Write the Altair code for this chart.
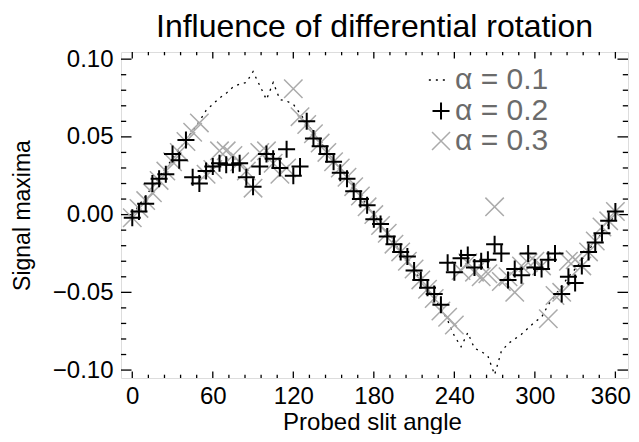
import altair as alt
import pandas as pd

# ---- data -------------------------------------------------------------
angle = [0, 5, 10, 15, 20, 25, 30, 35, 40, 45, 50, 55, 60, 65, 70, 75, 80, 85,
         90, 95, 100, 105, 110, 115, 120, 125, 130, 135, 140, 145, 150, 155, 160,
         165, 170, 175, 180, 185, 190, 195, 200, 205, 210, 215, 220, 225, 230, 235,
         240, 245, 250, 255, 260, 265, 270, 275, 280, 285, 290, 295, 300, 305, 310,
         315, 320, 325, 330, 335, 340, 345, 350, 355, 360]

alpha01 = [0.000, 0.006, 0.012, 0.018, 0.024, 0.030, 0.036, 0.042, 0.048, 0.054,
           0.060, 0.067, 0.071, 0.075, 0.078, 0.082, 0.084, 0.085, 0.092, 0.083,
           0.074, 0.085, 0.074, 0.073, 0.071, 0.065, 0.059, 0.053, 0.047, 0.041,
           0.035, 0.030, 0.024, 0.018, 0.012, 0.006, 0.000, -0.006, -0.012, -0.018,
           -0.024, -0.030, -0.036, -0.042, -0.048, -0.054, -0.060, -0.068, -0.078,
           -0.085, -0.076, -0.086, -0.088, -0.091, -0.103, -0.088, -0.083, -0.080,
           -0.077, -0.073, -0.069, -0.066, -0.058, -0.052, -0.046, -0.040, -0.035,
           -0.029, -0.023, -0.017, -0.012, -0.006, 0.000]

alpha02 = [-0.002, 0.002, 0.007, 0.020, 0.023, 0.026, 0.039, 0.035, 0.048, 0.024,
           0.020, 0.028, 0.031, 0.033, 0.032, 0.032, 0.033, 0.024, 0.018, 0.031,
           0.039, 0.036, 0.030, 0.042, 0.025, 0.031, 0.060, 0.049, 0.044, 0.039,
           0.034, 0.027, 0.023, 0.015, 0.010, 0.006, -0.003, -0.006, -0.014, -0.019,
           -0.024, -0.027, -0.036, -0.042, -0.047, -0.051, -0.058, -0.031, -0.037,
           -0.028, -0.026, -0.034, -0.030, -0.029, -0.019, -0.025, -0.042, -0.035,
           -0.039, -0.025, -0.034, -0.035, -0.029, -0.025, -0.051, -0.040, -0.044,
           -0.033, -0.024, -0.018, -0.012, -0.004, 0.002]

alpha03 = [-0.002, 0.004, 0.009, 0.014, 0.022, 0.028, 0.034, 0.040, 0.047, 0.053,
           0.059, 0.026, 0.029, 0.041, 0.041, 0.038, 0.034, 0.028, 0.017, 0.040,
           0.041, 0.033, 0.026, 0.030, 0.081, 0.063, 0.058, 0.052, 0.046, 0.040,
           0.034, 0.030, 0.024, 0.018, 0.012, 0.005, 0.000, -0.007, -0.012, -0.019,
           -0.024, -0.030, -0.035, -0.042, -0.048, -0.054, -0.062, -0.066, -0.071,
           -0.036, -0.031, -0.037, -0.040, -0.038, 0.005, -0.043, -0.040, -0.050,
           -0.033, -0.031, -0.030, -0.033, -0.067, -0.052, -0.050, -0.030, -0.029,
           -0.033, -0.024, -0.017, -0.008, -0.004, 0.002]

x_major = [0, 60, 120, 180, 240, 300, 360]
x_minor = [12, 24, 36, 48, 72, 84, 96, 108, 132, 144, 156, 168, 192, 204, 216,
           228, 252, 264, 276, 288, 312, 324, 336, 348]
y_major = [-0.10, -0.05, 0.00, 0.05, 0.10]
y_minor = [-0.09, -0.08, -0.07, -0.06, -0.04, -0.03, -0.02, -0.01,
           0.01, 0.02, 0.03, 0.04, 0.06, 0.07, 0.08, 0.09]

legend_labels = ["α = 0.1", "α = 0.2", "α = 0.3"]
legend_x = [240.5, 240.5, 240.5]
legend_y = [0.0866, 0.0667, 0.0474]

title = "Influence of differential rotation"
x_title = "Probed slit angle"
y_title = "Signal maxima"

# ---- layout -----------------------------------------------------------
W, H = 507, 326
FONT = "Liberation Sans"
XDOM = [-8.4, 369.4]
YDOM = [-0.1051, 0.1046]

df = pd.DataFrame({"angle": angle, "a1": alpha01, "a2": alpha02, "a3": alpha03})

xs = alt.Scale(domain=XDOM, nice=False, zero=False)
ys = alt.Scale(domain=YDOM, nice=False, zero=False)

x_axis = alt.Axis(values=x_major, ticks=False, domain=False, grid=False,
                  labelFontSize=24, labelFont=FONT, labelColor="black",
                  labelPadding=6, title=x_title, titleFont=FONT,
                  titleFontSize=24, titleFontWeight="normal", titleColor="black",
                  titleX=251, titleY=51, titleAlign="center",
                  titleBaseline="alphabetic", labelFlush=False,
                  labelOffset={"condition": {"test": "datum.value >= 360",
                                             "value": -5}, "value": 0})
y_axis = alt.Axis(values=y_major, format=".2f", ticks=False, domain=False,
                  grid=False, labelFontSize=24, labelFont=FONT,
                  labelColor="black", labelPadding=8, title=y_title,
                  titleFont=FONT, titleFontSize=23, titleFontWeight="normal",
                  titleColor="black", titleX=-99, titleY=163, titleAngle=-90,
                  titleAlign="center", titleBaseline="middle", labelFlush=False)

X = alt.X("angle:Q", scale=xs, axis=x_axis)
Y = alt.Y("a1:Q", scale=ys, axis=y_axis)

line = alt.Chart(df).mark_line(color="black", strokeWidth=1.3,
                               strokeDash=[2, 5]).encode(x=X, y=Y)

PLUS = "M-1,0L1,0M0,-1L0,1"
CROSS = "M-1,-1L1,1M-1,1L1,-1"

crosses = alt.Chart(df).mark_point(shape=CROSS, filled=False, size=340,
                                   stroke="#ababab", strokeWidth=1.5,
                                   opacity=1).encode(
    x=alt.X("angle:Q", scale=xs), y=alt.Y("a3:Q", scale=ys))

pluses = alt.Chart(df).mark_point(shape=PLUS, filled=False, size=289,
                                  stroke="black", strokeWidth=2,
                                  opacity=1).encode(
    x=alt.X("angle:Q", scale=xs), y=alt.Y("a2:Q", scale=ys))

# frame ticks (inward, IDL style)
def xticks(vals, length):
    d = pd.DataFrame({"t": vals})
    bot = alt.Chart(d).mark_rule(color="black", strokeWidth=1.3).encode(
        x=alt.X("t:Q", scale=xs), y=alt.value(H), y2=alt.value(H - length))
    top = alt.Chart(d).mark_rule(color="black", strokeWidth=1.3).encode(
        x=alt.X("t:Q", scale=xs), y=alt.value(0), y2=alt.value(length))
    return [bot, top]

def yticks(vals, length):
    d = pd.DataFrame({"t": vals})
    left = alt.Chart(d).mark_rule(color="black", strokeWidth=1.3).encode(
        y=alt.Y("t:Q", scale=ys), x=alt.value(0), x2=alt.value(length))
    right = alt.Chart(d).mark_rule(color="black", strokeWidth=1.3).encode(
        y=alt.Y("t:Q", scale=ys), x=alt.value(W), x2=alt.value(W - length))
    return [left, right]

ticks = xticks(x_major, 6.5) + xticks(x_minor, 3.3) + \
        yticks(y_major, 10.5) + yticks(y_minor, 5.2)

# legend
leg_df = pd.DataFrame({"lx": legend_x, "ly": legend_y, "label": legend_labels})
leg_text = alt.Chart(leg_df).mark_text(align="left", baseline="middle",
                                       fontSize=30, font=FONT,
                                       color="#6b6b6b").encode(
    x=alt.X("lx:Q", scale=xs), y=alt.Y("ly:Q", scale=ys), text="label:N")

leg_line_df = pd.DataFrame({"lx": [221.0, 234.5], "ly": [legend_y[0], legend_y[0]]})
leg_line = alt.Chart(leg_line_df).mark_line(color="black", strokeWidth=1.3,
                                            strokeDash=[2, 5]).encode(
    x=alt.X("lx:Q", scale=xs), y=alt.Y("ly:Q", scale=ys))
leg_plus = alt.Chart(leg_df.iloc[[1]]).mark_point(
    shape=PLUS, filled=False, size=289, stroke="black", strokeWidth=2,
    opacity=1).encode(x=alt.X("lx:Q", scale=xs), y=alt.Y("ly:Q", scale=ys),
                      xOffset=alt.value(-14))
leg_cross = alt.Chart(leg_df.iloc[[2]]).mark_point(
    shape=CROSS, filled=False, size=324, stroke="#ababab", strokeWidth=1.5,
    opacity=1).encode(x=alt.X("lx:Q", scale=xs), y=alt.Y("ly:Q", scale=ys),
                      xOffset=alt.value(-14))

chart = alt.layer(line, *ticks, crosses, pluses, leg_line, leg_plus, leg_cross,
                  leg_text).properties(
    width=W, height=H,
    title=alt.TitleParams(title, font=FONT, fontSize=32, fontWeight="normal",
                          color="black", anchor="middle", offset=3),
    autosize=alt.AutoSizeParams(type="none"),
    padding={"left": 113, "top": 44, "right": 3, "bottom": 56},
).configure_view(stroke="black", strokeWidth=1.5).configure(background="white")

chart.save("out.html", embed_options={"renderer": "svg", "actions": False})
